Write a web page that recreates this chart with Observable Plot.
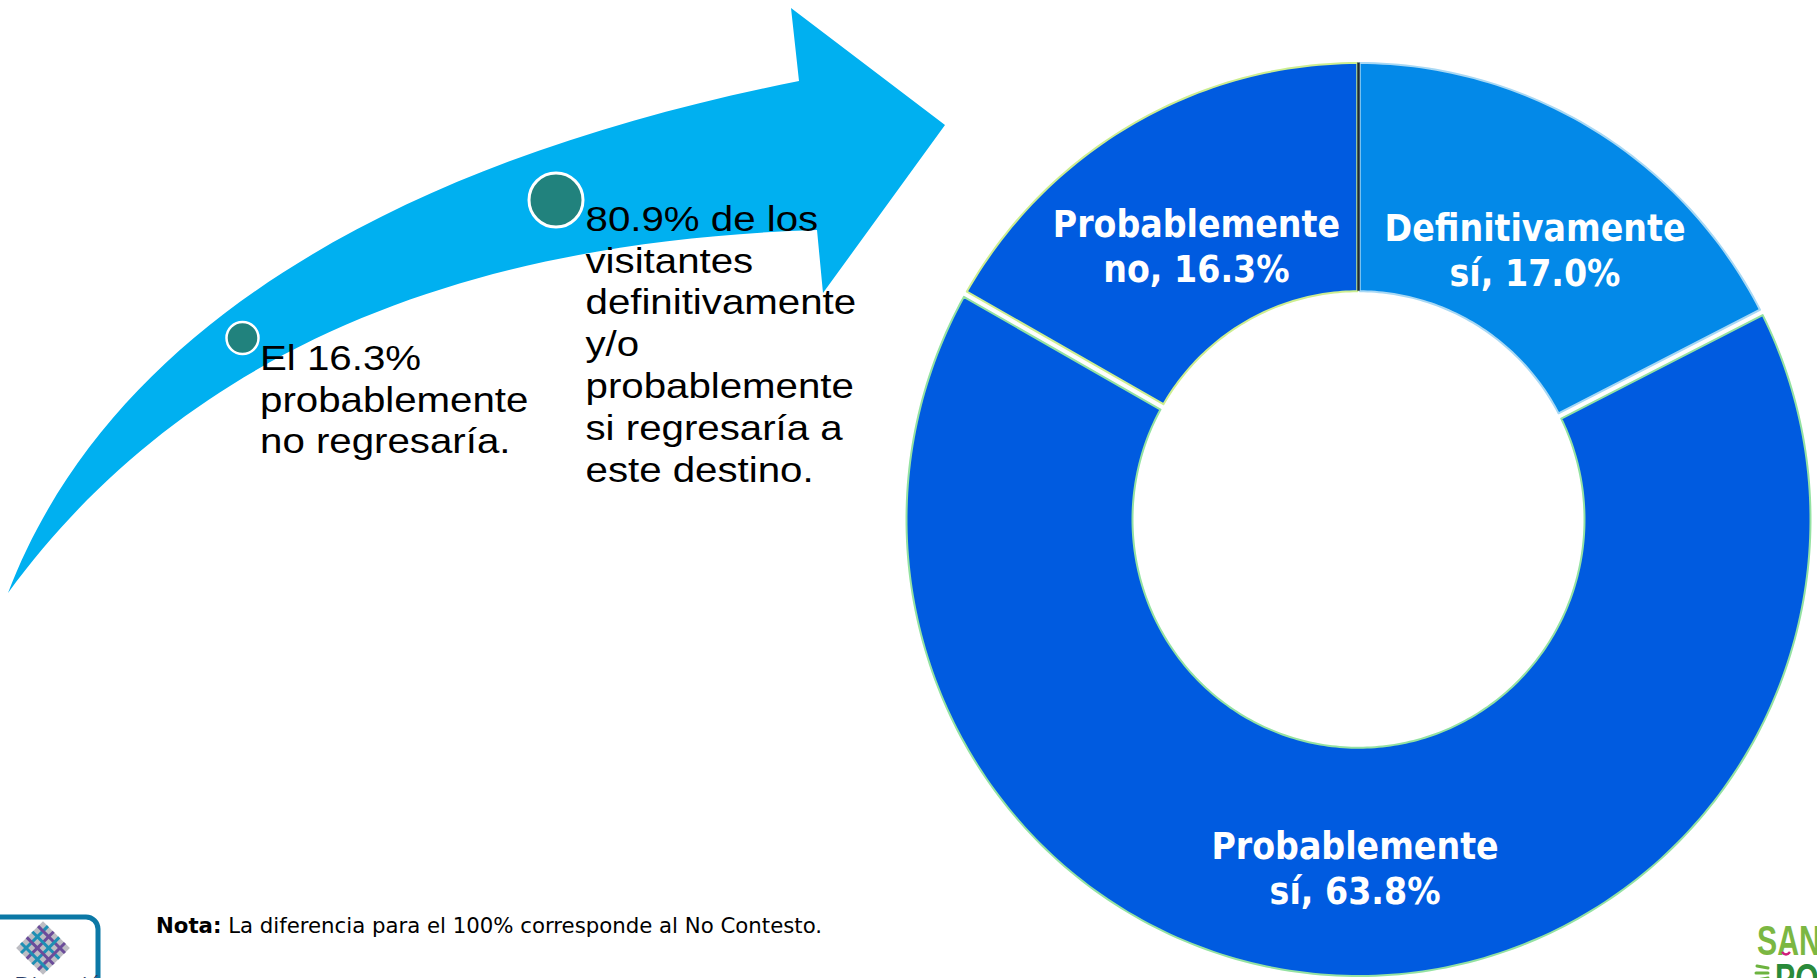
<!DOCTYPE html>
<html>
<head>
<meta charset="utf-8">
<script src="https://cdn.jsdelivr.net/npm/d3@7"></script>
<script src="https://cdn.jsdelivr.net/npm/@observablehq/plot@0.6"></script>
<style>
html, body { margin: 0; padding: 0; background: #fff; overflow: hidden; }
#wrap { position: relative; width: 1817px; height: 978px; overflow: hidden; background: #fff; }
#chart { position: absolute; left: 0; top: 0; }
#overlay { position: absolute; left: 0; top: 0; }
#chart svg text { font-stretch: condensed; }
</style>
</head>
<body>
<div id="wrap">
  <div id="chart"></div>
  <svg id="overlay" width="1817" height="978" xmlns="http://www.w3.org/2000/svg"></svg>
</div>
<script>
// ---------- data ----------
const categories = ["Definitivamente sí", "Probablemente sí", "Probablemente no"];
const values = [17.0, 63.8, 16.3];
const leftCallout = ["El 16.3%", "probablemente", "no regresaría."];
const rightCallout = ["80.9% de los", "visitantes", "definitivamente", "y/o", "probablemente", "si regresaría a", "este destino."];
const noteLabel = "Nota:";
const noteText = " La diferencia para el 100% corresponde al No Contesto.";

// ---------- styles ----------
const sliceFills = ["#0389E8", "#005BE0", "#005BE0"];
const sliceStrokes = ["#A8D8F4", "#94E2A2", "#CDEE90"];

// ---------- layout ----------
const W = 1817, H = 978;
const CX = 1358, CY = 519, R = 452, KY = 1.01, RIN = 226;
const outerR = 1, innerR = RIN / R;
const px = 1 / R;

const total = d3.sum(values);
let acc = 0;
const slices = categories.map((c, i) => {
  const a0 = acc / total * 2 * Math.PI;
  acc += values[i];
  const a1 = acc / total * 2 * Math.PI;
  return {c, v: values[i], a0, a1, i};
});

const gapWhite = 3 * px, gapTop = 1.2 * px;
const padStart = i => i === 0 ? gapTop : gapWhite;
const padEnd = i => i === slices.length - 1 ? gapTop : gapWhite;

const ringPts = [];
for (const s of slices) {
  const hs = padStart(s.i), he = padEnd(s.i);
  const oa0 = s.a0 + Math.asin(hs / outerR), oa1 = s.a1 - Math.asin(he / outerR);
  const ia0 = s.a0 + Math.asin(hs / innerR), ia1 = s.a1 - Math.asin(he / innerR);
  const n = Math.max(12, Math.ceil((s.a1 - s.a0) / (2 * Math.PI) * 360));
  for (let k = 0; k <= n; k++) {
    const a = oa0 + (oa1 - oa0) * k / n;
    ringPts.push({c: s.c, x: outerR * Math.sin(a), y: outerR * Math.cos(a)});
  }
  for (let k = 0; k <= n; k++) {
    const a = ia1 + (ia0 - ia1) * k / n;
    ringPts.push({c: s.c, x: innerR * Math.sin(a), y: innerR * Math.cos(a)});
  }
}

const labelRho = 330 / R;
const labelData = slices.map(s => {
  const mid = (s.a0 + s.a1) / 2;
  const [w1, w2] = s.c.split(" ");
  return {x: labelRho * Math.sin(mid), y: labelRho * Math.cos(mid), text: `${w1}\n${w2}, ${s.v.toFixed(1)}%`};
});

const marks = [];
slices.forEach(s => {
  marks.push(Plot.line(ringPts.filter(d => d.c === s.c), {
    x: "x", y: "y", curve: "linear-closed",
    fill: sliceFills[s.i], stroke: sliceStrokes[s.i], strokeWidth: 2
  }));
});
marks.push(Plot.ruleX([0], {y1: innerR, y2: outerR, stroke: "#1c2a33", strokeWidth: 2.5}));
marks.push(Plot.text(labelData, {
  x: "x", y: "y", text: "text", fill: "white",
  fontSize: 37, fontWeight: "bold",
  fontFamily: "'DejaVu Sans Condensed', 'DejaVu Sans', sans-serif",
  lineHeight: 45 / 37, dx: 4, dy: 14
}));

const chart = Plot.plot({
  width: W, height: H, margin: 0,
  x: {domain: [-CX / R, (W - CX) / R], axis: null},
  y: {domain: [-(H - CY) / (R * KY), CY / (R * KY)], axis: null},
  style: {background: "transparent"},
  marks
});
document.getElementById("chart").appendChild(chart);

// ---------- overlay: arrow, callouts, note, logos ----------
const ov = d3.select("#overlay");
ov.append("path")
  .attr("d", "M8,593 C120,300 450,150 799,81 L791,8 L945,125 L823,293 L817,230 C500,240 200,330 8,593 Z")
  .attr("fill", "#00B0F0");
ov.append("circle").attr("cx", 242.5).attr("cy", 338).attr("r", 16)
  .attr("fill", "#21827D").attr("stroke", "white").attr("stroke-width", 2.5);
ov.append("circle").attr("cx", 556).attr("cy", 200).attr("r", 27)
  .attr("fill", "#21827D").attr("stroke", "white").attr("stroke-width", 3);

function callout(lines, x, y0, step) {
  lines.forEach((t, k) => {
    ov.append("text")
      .attr("transform", `translate(${x},${y0 + k * step}) scale(1.15,1)`)
      .attr("font-family", "'Liberation Sans', Arial, sans-serif")
      .attr("font-size", 35)
      .attr("fill", "#000")
      .text(t);
  });
}
callout(leftCallout, 260, 370, 41.7);
callout(rightCallout, 585.5, 230.7, 41.8);

const note = ov.append("text")
  .attr("x", 156).attr("y", 933)
  .attr("font-family", "'DejaVu Sans Condensed', 'DejaVu Sans', sans-serif")
  .style("font-stretch", "condensed")
  .attr("font-size", 22).attr("fill", "#000")
  .attr("textLength", 666).attr("lengthAdjust", "spacingAndGlyphs");
note.append("tspan").attr("font-weight", "bold").text(noteLabel);
note.append("tspan").text(noteText);

// left logo
ov.append("rect").attr("x", -20).attr("y", 917).attr("width", 118).attr("height", 90)
  .attr("rx", 12).attr("fill", "none").attr("stroke", "#0B78A6").attr("stroke-width", 5);
const lg = ov.append("g").attr("transform", "translate(43,948) rotate(45)");
lg.append("rect").attr("x", -19).attr("y", -19).attr("width", 38).attr("height", 38).attr("fill", "#BDBDC3");
[-12, -4, 4, 12].forEach((o, k) => {
  lg.append("line").attr("x1", o).attr("x2", o).attr("y1", -19).attr("y2", 19)
    .attr("stroke", k % 2 ? "#6B4C9A" : "#1E8FB4").attr("stroke-width", 3);
  lg.append("line").attr("y1", o).attr("y2", o).attr("x1", -19).attr("x2", 19)
    .attr("stroke", k % 2 ? "#1E8FB4" : "#6B4C9A").attr("stroke-width", 3);
});
ov.append("text").attr("x", 14).attr("y", 992).attr("font-family", "'DejaVu Serif', serif")
  .attr("font-style", "italic").attr("font-size", 20).attr("fill", "#2a3b66").text("Dirección");

// right logo
ov.append("text").attr("transform", "translate(1757,955) scale(0.72,1)")
  .attr("font-family", "'Liberation Sans', 'DejaVu Sans', sans-serif")
  .attr("font-weight", "bold").attr("font-size", 42).attr("fill", "#7BB742").text("SAN");
ov.append("text").attr("transform", "translate(1775,993) scale(0.72,1)")
  .attr("font-family", "'Liberation Sans', 'DejaVu Sans', sans-serif")
  .attr("font-weight", "bold").attr("font-size", 42).attr("fill", "#2A8A3A").text("POT");
ov.append("path").attr("d", "M1782,952 q4,5 8,0").attr("fill", "none")
  .attr("stroke", "#D0207A").attr("stroke-width", 2.5);
[[1757, 966, 1768, 968], [1756, 973, 1768, 973], [1757, 980, 1768, 978]].forEach(([x1, y1, x2, y2]) => {
  ov.append("line").attr("x1", x1).attr("y1", y1).attr("x2", x2).attr("y2", y2)
    .attr("stroke", "#6DB33F").attr("stroke-width", 3).attr("stroke-linecap", "round");
});
</script>
</body>
</html>
